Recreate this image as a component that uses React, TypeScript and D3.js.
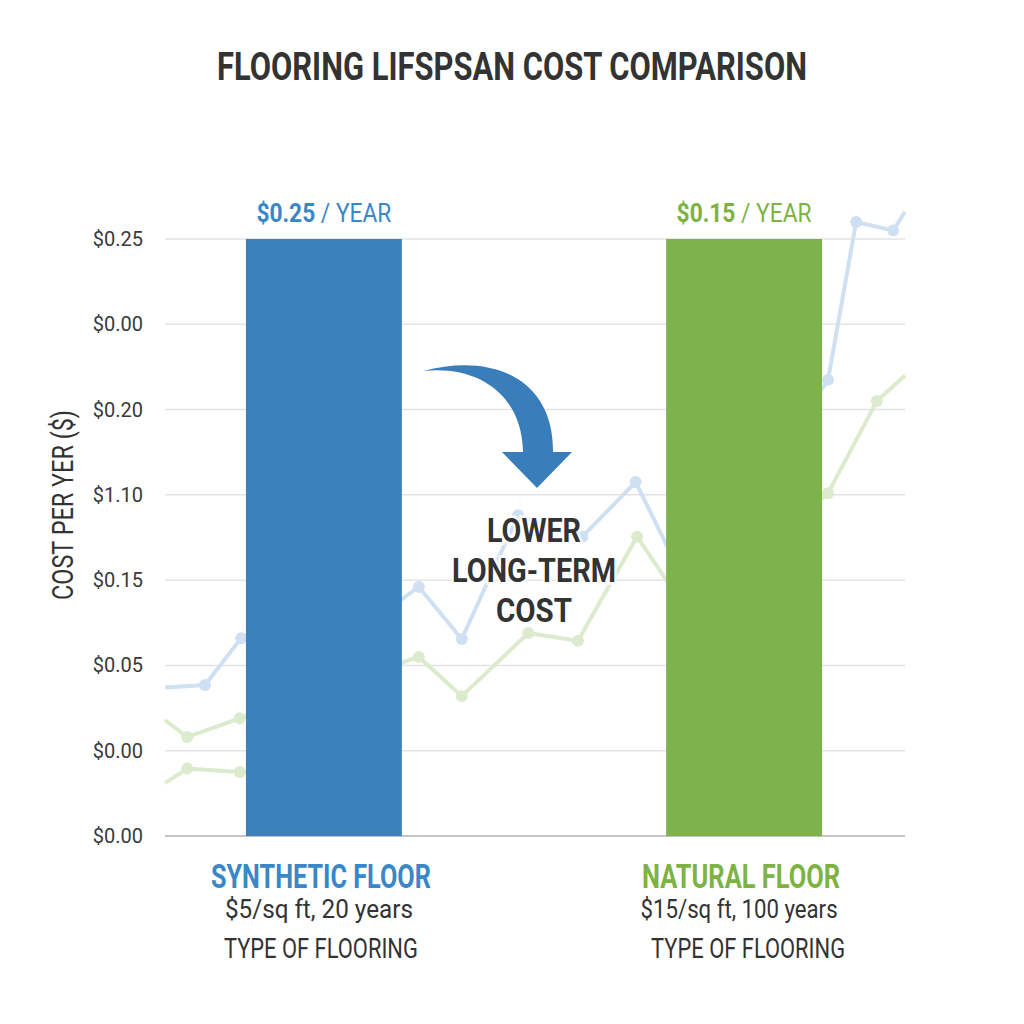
import { scaleLinear, scaleBand, line as d3_line } from "d3";

const title = "FLOORING LIFSPSAN COST COMPARISON";
const yAxisTitle = "COST PER YER ($)";
const xAxisTitle = "TYPE OF FLOORING";

// tick labels from the bottom gridline up (as printed on the chart)
const tickLabels = ["$0.00", "$0.00", "$0.05", "$0.15", "$1.10", "$0.20", "$0.00", "$0.25"];

const categories = ["SYNTHETIC FLOOR", "NATURAL FLOOR"];
const barLevels = [7, 7]; // gridline reached by each bar
const rateLabels = ["$0.25", "$0.15"];
const costNotes = ["$5/sq ft, 20 years", "$15/sq ft, 100 years"];

// faded background trend lines, [x (0-100), y (grid steps)]
const blueTrend: [number, number][] = [
  [0, 1.74], [5.4, 1.77], [10.3, 2.32], [29.7, 2.63], [34.3, 2.92], [40.1, 2.31],
  [47.7, 3.76], [56.4, 3.51], [63.6, 4.15], [70.9, 2.86], [89.6, 5.35],
  [93.4, 7.2], [98.4, 7.1], [100, 7.32],
];
const greenTrend: [number, number][] = [
  [0, 1.36], [3, 1.16], [10.1, 1.38], [34.3, 2.1], [40.1, 1.64], [49.1, 2.38],
  [55.8, 2.29], [63.8, 3.51], [70.9, 2.59], [89.6, 4.02], [96.2, 5.1], [100, 5.4],
];
const greenTrendLow: [number, number][] = [
  [0, 0.62], [3, 0.79], [10.1, 0.75], [18.2, 0.66],
];

const BLUE = "#3a80bb";
const GREEN = "#7db24c";
const BLUE_TEXT = "#3a87c8";
const GREEN_TEXT = "#7cb342";
const INK = "#333333";
const FONT = "Roboto, 'Open Sans', sans-serif";

function Label(props: {
  x: number; y: number; len?: number; size: number; weight?: number;
  fill?: string; anchor?: string; children: any; transform?: string;
}) {
  const { x, y, len, size, weight = 400, fill = INK, anchor = "middle", children, transform } = props;
  return (
    <text
      x={x}
      y={y}
      transform={transform}
      textLength={len}
      lengthAdjust={len ? "spacingAndGlyphs" : undefined}
      textAnchor={anchor}
      fontSize={size}
      fontWeight={weight}
      fill={fill}
      fontFamily={FONT}
    >
      {children}
    </text>
  );
}

export default function App() {
  const left = 165;
  const right = 905;

  const y = scaleLinear().domain([0, 7]).range([836, 239]);
  const xBand = scaleBand<string>()
    .domain(categories)
    .range([114, 954])
    .paddingInner(0.629)
    .paddingOuter(0.314);
  const xTrend = scaleLinear().domain([0, 100]).range([left, right]);

  const trendLine = d3_line<[number, number]>()
    .x((d) => xTrend(d[0]))
    .y((d) => y(d[1]));

  const bw = xBand.bandwidth();
  const cx = ((xBand(categories[0]) ?? 0) + bw + (xBand(categories[1]) ?? 0)) / 2;
  const colors = [BLUE, GREEN];
  const textColors = [BLUE_TEXT, GREEN_TEXT];

  const trends = [
    { data: blueTrend, color: "#cfe0f2" },
    { data: greenTrend, color: "#dcebcd" },
    { data: greenTrendLow, color: "#dcebcd" },
  ];

  // curved arrow, relative to the gap between the bars
  const arrow = [
    `M${cx - 111},371`,
    `C${cx - 40},352 ${cx + 20},380 ${cx + 19},452`,
    `L${cx + 38},452`,
    `L${cx + 3},488`,
    `L${cx - 32},452`,
    `L${cx - 11},452`,
    `C${cx - 12},395 ${cx - 55},365 ${cx - 111},371`,
    "Z",
  ].join(" ");

  return (
    <svg
      width={1024}
      height={1024}
      style={{ position: "absolute", left: 0, top: 0, background: "#ffffff" }}
    >
      <Label x={512} y={80} len={590} size={39} weight={700} fill={INK}>
        {title}
      </Label>

      {/* gridlines */}
      {tickLabels.map((t, i) => (
        <g key={i}>
          <line
            x1={left}
            x2={right}
            y1={y(i)}
            y2={y(i)}
            stroke={i === 0 ? "#c4c4c4" : "#e3e3e3"}
            strokeWidth={i === 0 ? 2 : 1.5}
          />
          <Label x={143} y={y(i) + 7} size={20} anchor="end" fill="#3a3a3a">
            {t}
          </Label>
        </g>
      ))}

      <Label
        x={0}
        y={0}
        len={190}
        size={29}
        fill={INK}
        transform={`translate(73,505) rotate(-90)`}
      >
        {yAxisTitle}
      </Label>

      {/* background trends */}
      {trends.map((s, i) => (
        <g key={i}>
          <path d={trendLine(s.data) ?? ""} fill="none" stroke={s.color} strokeWidth={4} />
          {s.data.slice(1, -1).map((d, j) => (
            <circle key={j} cx={xTrend(d[0])} cy={y(d[1])} r={6} fill={s.color} />
          ))}
        </g>
      ))}

      {/* bars */}
      {categories.map((c, i) => (
        <rect
          key={c}
          x={xBand(c)}
          y={y(barLevels[i])}
          width={bw}
          height={y(0) - y(barLevels[i])}
          fill={colors[i]}
        />
      ))}

      {/* rate labels above bars */}
      {categories.map((c, i) => (
        <text
          key={c}
          x={(xBand(c) ?? 0) + bw / 2}
          y={y(barLevels[i]) - 17}
          textAnchor="middle"
          fontSize={25}
          fontFamily={FONT}
          fill={textColors[i]}
          textLength={135}
          lengthAdjust="spacingAndGlyphs"
        >
          <tspan fontWeight={700}>{rateLabels[i]}</tspan>
          <tspan fontWeight={400}> / YEAR</tspan>
        </text>
      ))}

      <path d={arrow} fill="#3a7dbb" />

      <g style={{ paintOrder: "stroke" } as any} stroke="rgba(255,255,255,0.75)" strokeWidth={6}>
        <Label x={cx} y={542} len={94} size={34} weight={700}>LOWER</Label>
        <Label x={cx} y={582} len={164} size={34} weight={700}>LONG-TERM</Label>
        <Label x={cx} y={622} len={76} size={34} weight={700}>COST</Label>
      </g>

      {/* category labels */}
      {categories.map((c, i) => {
        const mx = (xBand(c) ?? 0) + bw / 2;
        return (
          <g key={c}>
            <Label x={mx - 3} y={888} len={i === 0 ? 220 : 198} size={33} weight={700} fill={textColors[i]}>
              {c}
            </Label>
            <Label x={mx - 5} y={918} len={i === 0 ? 188 : 197} size={25} fill={INK}>
              {costNotes[i]}
            </Label>
            <Label x={mx - 3 + i * 7} y={958} len={194} size={27} fill={INK}>
              {xAxisTitle}
            </Label>
          </g>
        );
      })}
    </svg>
  );
}
